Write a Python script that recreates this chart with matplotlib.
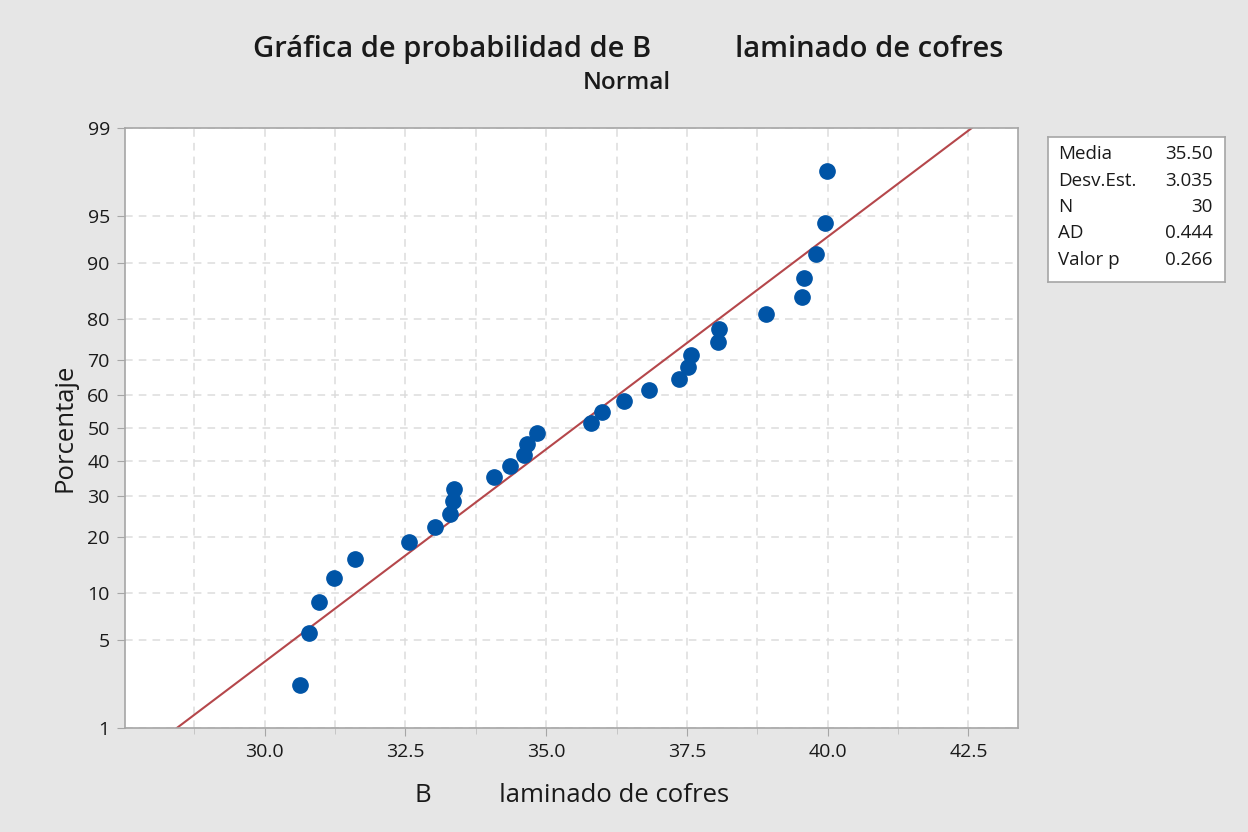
'''
Normal probability plot (Minitab style) for B laminado de cofres.
'''

import matplotlib
matplotlib.use('Agg')
import matplotlib.pyplot as plt
from matplotlib.ticker import MultipleLocator
from statistics import NormalDist
import numpy as np

# data
values = [30.63, 30.78, 30.96, 31.24, 31.61, 32.56, 33.02, 33.30, 33.35, 33.36,
          34.07, 34.35, 34.60, 34.66, 34.84, 35.79, 35.99, 36.38, 36.82, 37.36,
          37.52, 37.58, 38.05, 38.07, 38.91, 39.55, 39.58, 39.80, 39.96, 39.99]
mean = 35.50
std = 3.035
stat_names = ['Media', 'Desv.Est.', 'N', 'AD', 'Valor p']
stat_values = ['35.50', '3.035', '30', '0.444', '0.266']
y_ticks = [1, 5, 10, 20, 30, 40, 50, 60, 70, 80, 90, 95, 99]
x_ticks = [30.0, 32.5, 35.0, 37.5, 40.0, 42.5]

nd = NormalDist()
n = len(values)
x_sorted = np.sort(values)
# median ranks as Minitab uses
pct = [(i - 0.3) / (n + 0.4) for i in range(1, n + 1)]
z_pts = [nd.inv_cdf(p) for p in pct]

z_lo, z_hi = nd.inv_cdf(0.01), nd.inv_cdf(0.99)
line_x = [mean + std * z_lo, mean + std * z_hi]

plt.rcParams['font.family'] = ['Open Sans', 'DejaVu Sans']

fig = plt.figure(figsize=(12.48, 8.32), dpi=100)
fig.patch.set_facecolor('#e6e6e6')
ax = fig.add_axes([0.1002, 0.125, 0.7155, 0.7212])
ax.set_facecolor('white')

ax.plot(line_x, [z_lo, z_hi], color='#b5474b', lw=1.5, zorder=2)
ax.plot(x_sorted, z_pts, 'o', color='#0054a6', ms=11, mec='#0054a6', zorder=3)

ax.set_xlim(27.52, 43.38)
ax.set_ylim(z_lo, z_hi)
ax.set_xticks(x_ticks)
ax.set_xticklabels(['%.1f' % v for v in x_ticks])
ax.xaxis.set_minor_locator(MultipleLocator(1.25))
ax.set_yticks([nd.inv_cdf(v / 100) for v in y_ticks])
ax.set_yticklabels([str(v) for v in y_ticks])

ax.grid(True, which='both', axis='x', color='#dcdcdc', ls=(0, (5, 4)), lw=1.1)
ax.grid(True, which='major', axis='y', color='#dcdcdc', ls=(0, (5, 4)), lw=1.1)
ax.set_axisbelow(True)

for s in ax.spines.values():
    s.set_color('#a6a6a6')
    s.set_linewidth(1.2)
ax.tick_params(axis='both', which='major', length=6, color='#a6a6a6',
               labelsize=14, labelcolor='#1a1a1a', pad=5)
ax.tick_params(axis='x', which='minor', length=4, color='#c0c0c0')

fig.text(0.5035, 0.941, 'Gráfica de probabilidad de B           laminado de cofres',
         ha='center', va='center', fontsize=21, fontweight='semibold', color='#1a1a1a')
fig.text(0.5025, 0.900, 'Normal', ha='center', va='center', fontsize=17.5,
         fontweight='semibold', color='#1a1a1a')
fig.text(0.4587, 0.044, 'B          laminado de cofres', ha='center', va='center',
         fontsize=18.5, fontweight='medium', color='#1a1a1a')
fig.text(0.052, 0.486, 'Porcentaje', ha='center', va='center', rotation=90,
         fontsize=18.5, fontweight='medium', color='#1a1a1a')

# stats box
box = fig.add_axes([1048 / 1248, 1 - 282 / 832, 177 / 1248, 145 / 832])
box.set_xlim(0, 1)
box.set_ylim(0, 1)
box.set_xticks([])
box.set_yticks([])
box.set_facecolor('white')
for s in box.spines.values():
    s.set_color('#a6a6a6')
    s.set_linewidth(1.2)
for i in range(len(stat_names)):
    yy = 1 - (17 + 26.5 * i) / 145
    box.text(0.056, yy, stat_names[i], ha='left', va='center', fontsize=13.5, color='#1a1a1a')
    box.text(0.932, yy, stat_values[i], ha='right', va='center', fontsize=13.5, color='#1a1a1a')

plt.savefig('out.png', dpi=100, facecolor=fig.get_facecolor())
